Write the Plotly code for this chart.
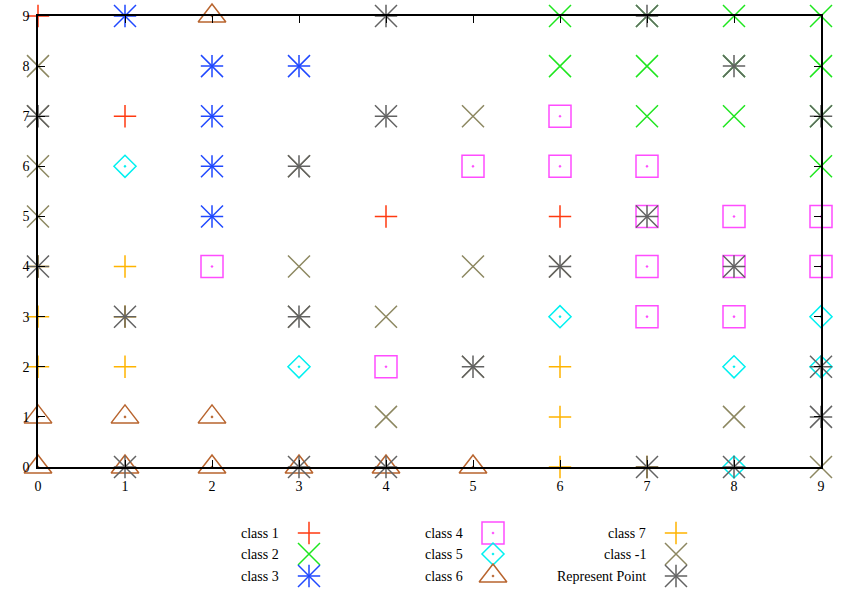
import plotly.graph_objects as go

# ---------------- data (grid positions of each class) ----------------
class1_x = [0, 1, 4, 6]
class1_y = [9, 7, 5, 5]

class2_x = [6, 7, 8, 9, 6, 7, 8, 9, 7, 8, 9, 9]
class2_y = [9, 9, 9, 9, 8, 8, 8, 8, 7, 7, 7, 6]

class3_x = [1, 2, 3, 2, 2, 2]
class3_y = [9, 8, 8, 7, 6, 5]

class4_x = [6, 5, 6, 7, 7, 8, 9, 2, 7, 8, 9, 7, 8, 4]
class4_y = [7, 6, 6, 6, 5, 5, 5, 4, 4, 4, 4, 3, 3, 2]

class5_x = [1, 6, 9, 3, 8, 9, 8]
class5_y = [6, 3, 3, 2, 2, 2, 0]

class6_x = [2, 0, 1, 2, 0, 1, 2, 3, 4, 5]
class6_y = [9, 1, 1, 1, 0, 0, 0, 0, 0, 0]

class7_x = [0, 1, 0, 1, 0, 1, 6, 6, 6, 7]
class7_y = [4, 4, 3, 3, 2, 2, 2, 1, 0, 0]

classm1_x = [0, 0, 0, 0, 5, 3, 3, 5, 6, 3, 4, 5, 4, 8, 9]
classm1_y = [8, 7, 6, 5, 7, 6, 4, 4, 4, 3, 3, 2, 1, 1, 0]

rep_x = [4, 7, 8, 9, 0, 4, 3, 7, 0, 6, 8, 1, 3, 5, 9, 9, 1, 3, 4, 7, 8]
rep_y = [9, 9, 8, 7, 7, 7, 6, 5, 4, 4, 4, 3, 3, 2, 2, 1, 0, 0, 0, 0, 0]

tick_vals = [0, 1, 2, 3, 4, 5, 6, 7, 8, 9]
tick_text = ["0", "1", "2", "3", "4", "5", "6", "7", "8", "9"]

legend_names = ["class 1", "class 2", "class 3", "class 4", "class 5",
                "class 6", "class 7", "class -1", "Represent Point"]

# ---------------- styles ----------------
W, H = 846, 594
FONT = "Liberation Serif, Times New Roman, serif"
LW = 1.5

RED = "#ff3a10"
GREEN = "#1ee61e"
BLUE = "#1f48ff"
MAGENTA = "#ff4cff"
CYAN = "#00f0f0"
BROWN = "#b8642e"
ORANGE = "#ffb400"
OLIVE = "#8c8760"
GRAY = "#626262"

# each class: list of (symbol, size) components drawn on top of each other
PLUS = ("cross-thin-open", 16)
XMARK = ("x-thin-open", 22)
styles = [
    (class1_x, class1_y, RED, [PLUS]),
    (class2_x, class2_y, GREEN, [XMARK]),
    (class3_x, class3_y, BLUE, [PLUS, XMARK]),
    (class4_x, class4_y, MAGENTA, [("square-open-dot", 22)]),
    (class5_x, class5_y, CYAN, [("diamond-open-dot", 17)]),
    (class6_x, class6_y, BROWN, [("triangle-up-open-dot", 24)]),
    (class7_x, class7_y, ORANGE, [PLUS]),
    (classm1_x, classm1_y, OLIVE, [XMARK]),
    (rep_x, rep_y, GRAY, [PLUS, XMARK]),
]

fig = go.Figure()

for xs, ys, col, comps in styles:
    for sym, sz in comps:
        fig.add_trace(go.Scatter(
            x=xs, y=ys, mode="markers", showlegend=False, cliponaxis=False,
            hoverinfo="skip",
            marker=dict(symbol=sym, size=sz, color=col,
                        line=dict(color=col, width=LW)),
            xaxis="x", yaxis="y"))

# ---------------- manual gnuplot-style legend (pixel overlay axes) ----------------
leg_rows = [533, 554, 576]
leg_text_right = [281, 465, 648]
leg_sym_x = [309, 493, 676]
for i, (name, st) in enumerate(zip(legend_names, styles)):
    col_i, row_i = i // 3, i % 3
    _, _, col, comps = st
    for sym, sz in comps:
        fig.add_trace(go.Scatter(
            x=[leg_sym_x[col_i]], y=[leg_rows[row_i]], mode="markers",
            showlegend=False, cliponaxis=False, hoverinfo="skip",
            marker=dict(symbol=sym, size=sz, color=col,
                        line=dict(color=col, width=LW)),
            xaxis="x2", yaxis="y2"))
    fig.add_annotation(x=leg_text_right[col_i], y=leg_rows[row_i], xref="x2", yref="y2",
                       text=name, showarrow=False, xanchor="right", yanchor="middle",
                       font=dict(family=FONT, size=14, color="black"))

axis_common = dict(
    range=[0, 9], tickmode="array", tickvals=tick_vals, ticktext=tick_text,
    showgrid=False, zeroline=False, showline=True, linecolor="black", linewidth=1.5,
    ticks="inside", ticklen=7, tickwidth=1, tickcolor="black", mirror="ticks",
    tickfont=dict(family=FONT, size=14, color="black"), automargin=False,
    fixedrange=True,
)

fig.update_layout(
    width=W, height=H,
    margin=dict(l=0, r=0, t=0, b=0),
    paper_bgcolor="white", plot_bgcolor="rgba(0,0,0,0)",
    xaxis=dict(domain=[38 / W, 821 / W], anchor="y", ticklabelstandoff=5, **axis_common),
    yaxis=dict(domain=[1 - 467 / H, 1 - 16 / H], anchor="x", ticklabelstandoff=4, **axis_common),
    xaxis2=dict(domain=[0, 1], range=[0, W], visible=False, anchor="y2", fixedrange=True),
    yaxis2=dict(domain=[0, 1], range=[H, 0], visible=False, anchor="x2", fixedrange=True),
    showlegend=False,
)

fig.write_html("out.html")
